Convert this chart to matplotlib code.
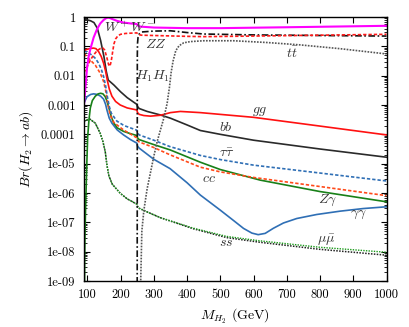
import matplotlib
matplotlib.use("Agg")
import matplotlib.pyplot as plt
from matplotlib.ticker import FixedLocator, FixedFormatter, LogLocator, NullFormatter, NullLocator

plt.rcParams['font.family'] = 'serif'
plt.rcParams['font.serif'] = ['cmr10']
plt.rcParams['mathtext.fontset'] = 'cm'
plt.rcParams['axes.formatter.use_mathtext'] = True

# ---------------- data (Br values) ----------------
ww_m = [90, 94, 99, 104, 109, 114, 119, 129, 139, 149, 158, 165, 175, 189, 209, 230, 249, 252, 256, 262, 300, 400, 500, 700, 1000]
ww_br = [1.0e-3, 3.5e-3, 0.0178, 0.0447, 0.0794, 0.126, 0.2, 0.38, 0.603, 0.794, 0.933, 0.955, 0.851, 0.741, 0.646, 0.603, 0.575, 0.513, 0.479, 0.468, 0.437, 0.417, 0.417, 0.447, 0.501]

zz_m = [90, 100, 110, 120, 130, 140, 146, 152, 158, 164, 168, 172, 176, 180, 185, 192, 200, 215, 249, 251, 255, 262, 300, 400, 450, 600, 800, 1000]
zz_br = [0.0126, 0.0209, 0.0355, 0.0525, 0.0724, 0.0851, 0.0891, 0.0759, 0.0447, 0.024, 0.0209, 0.0316, 0.0631, 0.12, 0.178, 0.229, 0.257, 0.275, 0.288, 0.269, 0.251, 0.24, 0.234, 0.219, 0.214, 0.224, 0.24, 0.257]

hh_m = [250, 250.4, 251, 252.5, 256, 264, 300, 350, 400, 450, 600, 800, 1000]
hh_br = [1e-10, 0.05, 0.126, 0.2, 0.263, 0.309, 0.331, 0.339, 0.295, 0.263, 0.245, 0.234, 0.224]

tt_m = [258.5, 261, 264, 270, 280, 290, 300, 310, 320, 330, 340, 347, 352, 358, 366, 376, 390, 410, 450, 540, 640, 740, 860, 1000]
tt_br = [1e-10, 1.58e-9, 5.0e-8, 2.51e-7, 1.41e-6, 5.0e-6, 1.78e-5, 5.62e-5, 1.41e-4, 3.55e-4, 1.12e-3, 3.98e-3, 0.0126, 0.0316, 0.0708, 0.105, 0.132, 0.145, 0.155, 0.155, 0.135, 0.112, 0.0832, 0.055]

bb_m = [90, 100, 110, 120, 130, 140, 150, 157, 163, 170, 180, 200, 220, 249, 251, 256, 280, 320, 350, 400, 440, 500, 600, 800, 1000]
bb_br = [0.813, 0.794, 0.741, 0.646, 0.417, 0.158, 0.0447, 0.0141, 7.08e-3, 6.03e-3, 4.79e-3, 2.82e-3, 1.78e-3, 1.05e-3, 8.91e-4, 7.59e-4, 6.03e-4, 4.57e-4, 3.55e-4, 2.09e-4, 1.35e-4, 1.0e-4, 6.31e-5, 3.16e-5, 1.66e-5]

gg_m = [90, 100, 110, 119, 126, 134, 142, 149, 155, 160, 166, 174, 185, 199, 220, 249, 251, 256, 270, 290, 320, 350, 380, 440, 600, 800, 1000]
gg_br = [0.0724, 0.0794, 0.0851, 0.0871, 0.0832, 0.0661, 0.0447, 0.0263, 0.0141, 7.08e-3, 3.55e-3, 2.0e-3, 1.32e-3, 1.0e-3, 7.94e-4, 6.76e-4, 5.5e-4, 4.79e-4, 4.37e-4, 4.17e-4, 4.47e-4, 5.5e-4, 6.03e-4, 5.5e-4, 3.8e-4, 1.91e-4, 9.55e-5]

tau_m = [90, 100, 114, 125, 134, 142, 149, 155, 160, 166, 172, 189, 210, 249, 251, 256, 300, 349, 440, 500, 600, 800, 1000]
tau_br = [0.0708, 0.0631, 0.0501, 0.038, 0.0263, 0.0166, 9.33e-3, 4.47e-3, 2.0e-3, 8.91e-4, 5.25e-4, 2.82e-4, 2.0e-4, 1.38e-4, 1.12e-4, 9.55e-5, 6.31e-5, 3.8e-5, 1.91e-5, 1.38e-5, 8.91e-6, 4.79e-6, 2.57e-6]

cc_m = [90, 104, 124, 139, 149, 155, 160, 166, 172, 180, 209, 249, 251, 256, 300, 349, 440, 500, 600, 800, 1000]
cc_br = [0.0562, 0.0389, 0.0229, 0.012, 6.31e-3, 3.16e-3, 1.41e-3, 6.31e-4, 3.8e-4, 2.51e-4, 1.41e-4, 7.59e-5, 6.31e-5, 5.5e-5, 3.55e-5, 2.0e-5, 7.59e-6, 5.25e-6, 3.39e-6, 1.66e-6, 8.13e-7]

zg_m = [91.2, 92, 93, 95, 97, 99, 101, 105, 109, 115, 124, 133, 140, 147, 154, 160, 165, 172, 179, 190, 209, 230, 249, 251, 256, 300, 349, 440, 500, 620, 800, 1000]
zg_br = [1e-10, 6.31e-9, 3.98e-8, 3.98e-7, 2.51e-6, 1.58e-5, 7.94e-5, 3.16e-4, 7.94e-4, 1.41e-3, 2.0e-3, 2.4e-3, 2.51e-3, 2.4e-3, 1.91e-3, 1.26e-3, 7.94e-4, 3.98e-4, 2.51e-4, 1.66e-4, 1.26e-4, 1.05e-4, 9.12e-5, 7.59e-5, 6.61e-5, 4.47e-5, 2.95e-5, 1.12e-5, 6.31e-6, 2.75e-6, 1.12e-6, 5.01e-7]

aa_m = [90, 99, 110, 119, 130, 140, 149, 155, 159, 166, 174, 190, 209, 230, 249, 251, 256, 300, 349, 400, 440, 500, 540, 570, 595, 614, 635, 660, 690, 730, 790, 860, 930, 1000]
aa_br = [1.17e-3, 1.91e-3, 2.29e-3, 2.4e-3, 2.29e-3, 2.0e-3, 1.58e-3, 1.05e-3, 6.76e-4, 3.55e-4, 2.4e-4, 1.41e-4, 9.55e-5, 6.61e-5, 5.01e-5, 3.98e-5, 3.39e-5, 1.41e-5, 6.76e-6, 2.24e-6, 8.5e-7, 2.6e-7, 1.15e-7, 6.2e-8, 4.3e-8, 3.8e-8, 4.2e-8, 6.3e-8, 9.5e-8, 1.35e-7, 1.85e-7, 2.4e-7, 2.95e-7, 3.39e-7]

mu_m = [90, 100, 109, 124, 139, 147, 154, 159, 165, 175, 199, 220, 249, 251, 256, 279, 319, 419, 519, 619, 800, 1000]
mu_br = [2.82e-4, 3.16e-4, 3.24e-4, 2.4e-4, 1.07e-4, 5.62e-5, 2.51e-5, 8.91e-6, 3.8e-6, 2.0e-6, 9.77e-7, 6.31e-7, 4.17e-7, 3.47e-7, 3.02e-7, 2.29e-7, 1.45e-7, 6.31e-8, 3.31e-8, 2.34e-8, 1.41e-8, 9.55e-9]
ss_br = [2.82e-4, 3.16e-4, 3.24e-4, 2.4e-4, 1.07e-4, 5.62e-5, 2.51e-5, 8.91e-6, 3.8e-6, 2.0e-6, 9.77e-7, 6.31e-7, 4.17e-7, 3.47e-7, 3.02e-7, 2.29e-7, 1.45e-7, 6.03e-8, 3.02e-8, 2.09e-8, 1.2e-8, 7.59e-9]

x_ticks = [100, 200, 300, 400, 500, 600, 700, 800, 900, 1000]
y_ticks = [1e-9, 1e-8, 1e-7, 1e-6, 1e-5, 1e-4, 1e-3, 1e-2, 1e-1, 1]
y_tick_labels = ['1e-09', '1e-08', '1e-07', '1e-06', '1e-05', '0.0001', '0.001', '0.01', '0.1', '1']

labels = [
    (r'$W^+W^-$', 149, 0.43, 'left'),
    (r'$ZZ$', 306, 0.12, 'center'),
    (r'$H_1H_1$', 297, 9.8e-3, 'center'),
    (r'$t\bar{t}$', 715, 0.057, 'center'),
    (r'$gg$', 619, 5.9e-4, 'center'),
    (r'$bb$', 517, 1.66e-4, 'center'),
    (r'$\tau\bar{\tau}$', 520, 2.14e-5, 'center'),
    (r'$cc$', 466, 3.0e-6, 'center'),
    (r'$Z\gamma$', 823, 5.4e-7, 'center'),
    (r'$\gamma\gamma$', 916, 1.78e-7, 'center'),
    (r'$\mu\bar{\mu}$', 820, 2.5e-8, 'center'),
    (r'$ss$', 517, 2.0e-8, 'center'),
]

# ---------------- plotting ----------------
fig = plt.figure(figsize=(4.09, 3.27), dpi=100)
ax = fig.add_axes([84/409, 46/327, 302.5/409, 264/327])

blue = '#2f6fb5'
lw = 1.2
ax.plot(mu_m, ss_br, color='#222222', ls=(0, (1, 0.9)), lw=1.1)
ax.plot(mu_m, mu_br, color='#1a9a1a', ls=(0, (1, 0.9)), lw=1.0)
ax.plot(aa_m, aa_br, color=blue, ls='-', lw=lw)
ax.plot(zg_m, zg_br, color='#188018', ls='-', lw=lw)
ax.plot(cc_m, cc_br, color='#ff4a1a', ls=(0, (2, 1.2)), lw=lw)
ax.plot(tau_m, tau_br, color=blue, ls=(0, (2, 1.2)), lw=lw)
ax.plot(bb_m, bb_br, color='#2a2a2a', ls='-', lw=lw)
ax.plot(gg_m, gg_br, color='#ff1010', ls='-', lw=lw)
ax.plot(tt_m, tt_br, color='#555555', ls=(0, (1, 0.8)), lw=1.2)
ax.plot(hh_m, hh_br, color='#111111', ls=(0, (4, 1.5, 1, 1.5)), lw=lw)
ax.plot(zz_m, zz_br, color='#ff1a1a', ls=(0, (2, 1.2)), lw=lw)
ax.plot(ww_m, ww_br, color='#ff00ff', ls='-', lw=1.5)

ax.set_yscale('log')
ax.set_xlim(90, 1000)
ax.set_ylim(1e-9, 1)

ax.xaxis.set_major_locator(FixedLocator(x_ticks))
ax.xaxis.set_minor_locator(NullLocator())
ax.set_xticklabels([str(v) for v in x_ticks])
ax.yaxis.set_major_locator(FixedLocator(y_ticks))
ax.yaxis.set_major_formatter(FixedFormatter(y_tick_labels))
ax.yaxis.set_minor_locator(LogLocator(base=10, subs=range(2, 10), numticks=20))
ax.yaxis.set_minor_formatter(NullFormatter())

ax.tick_params(which='major', direction='in', length=4, width=0.8, top=True, right=True, labelsize=9, pad=6, colors='black')
ax.tick_params(which='minor', direction='in', length=2, width=0.6, top=True, right=True)
for s in ax.spines.values():
    s.set_linewidth(1.0)

for txt, xm, yb, ha in labels:
    ax.text(xm, yb, txt, ha=ha, va='center', fontsize=10, color='#333333', zorder=5)

ax.set_xlabel(r'$M_{H_2}$ (GeV)', fontsize=10, labelpad=4)
ax.set_ylabel(r'$Br(H_2 \rightarrow ab)$', fontsize=10, labelpad=4)

fig.savefig('out.png', dpi=100)
